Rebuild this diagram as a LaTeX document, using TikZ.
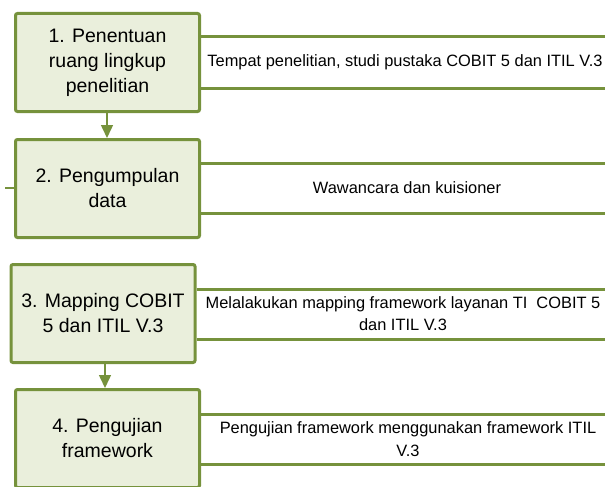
\documentclass[tikz,border=0pt]{standalone}
\usepackage{fontspec}
\setmainfont{Liberation Sans}
\usetikzlibrary{arrows.meta}
\definecolor{olive}{HTML}{76923C}
\definecolor{lightolive}{HTML}{EAEFDC}
\tikzset{
  stepbox/.style={draw=olive, fill=lightolive, line width=3pt, rounded corners=2pt,
    minimum width=184pt, minimum height=98pt, inner sep=0pt, align=center,
    font=\fontsize{19.5}{25}\selectfont},
  band/.style={draw=olive, line width=3pt},
  bandtext/.style={align=center, inner sep=0pt, font=\fontsize{16.4}{22.5}\selectfont},
  flow/.style={draw=olive, line width=1.5pt, -{Triangle[width=12pt,length=13pt]}},
  thin/.style={draw=olive, line width=1.5pt}
}
\begin{document}
\begin{tikzpicture}[x=1pt,y=-1pt]
\useasboundingbox (0,0) rectangle (605,487);
\clip (0,0) rectangle (605,487);
% boxes
\node[stepbox] (b1) at (107.5,62.5) {1. Penentuan\\ruang lingkup\\penelitian};
\node[stepbox] (b2) at (107.5,188.5) {2. Pengumpulan\\data};
\node[stepbox] (b3) at (103,313.5) {3. Mapping COBIT\\5 dan ITIL V.3};
\node[stepbox] (b4) at (107.5,438.5) {4. Pengujian\\framework};
% band end coordinates
\coordinate (e1a) at (610,37);  \coordinate (e1b) at (610,88);
\coordinate (e2a) at (610,163); \coordinate (e2b) at (610,213);
\coordinate (e3a) at (610,289); \coordinate (e3b) at (610,339);
\coordinate (e4a) at (610,414); \coordinate (e4b) at (610,464);
\draw[band] (b1.east |- e1a) -- (e1a);
\draw[band] (b1.east |- e1b) -- (e1b);
\draw[band] (b2.east |- e2a) -- (e2a);
\draw[band] (b2.east |- e2b) -- (e2b);
\draw[band] (b3.east |- e3a) -- (e3a);
\draw[band] (b3.east |- e3b) -- (e3b);
\draw[band] (b4.east |- e4a) -- (e4a);
\draw[band] (b4.east |- e4b) -- (e4b);
% band texts
\node[bandtext] (t1) at (405,62.5) {Tempat penelitian, studi pustaka COBIT 5 dan ITIL V.3};
\node[bandtext] (t2) at (407,188) {Wawancara dan kuisioner};
\node[bandtext] (t3) at (403,313.5) {Melalakukan mapping framework layanan TI\ \ COBIT 5\\dan ITIL V.3};
\node[bandtext] (t4) at (408,439) {Pengujian framework menggunakan framework ITIL\\V.3};
% arrows
\draw[flow] (b1.south -| 107,0) -- (b2.north -| 107,0);
\draw[flow] (b3.south -| 105,0) -- (b4.north -| 105,0);
% small left stub
\coordinate (s2) at (5,188);
\draw[thin] (s2) -- (b2.west |- s2);
\end{tikzpicture}
\end{document}
